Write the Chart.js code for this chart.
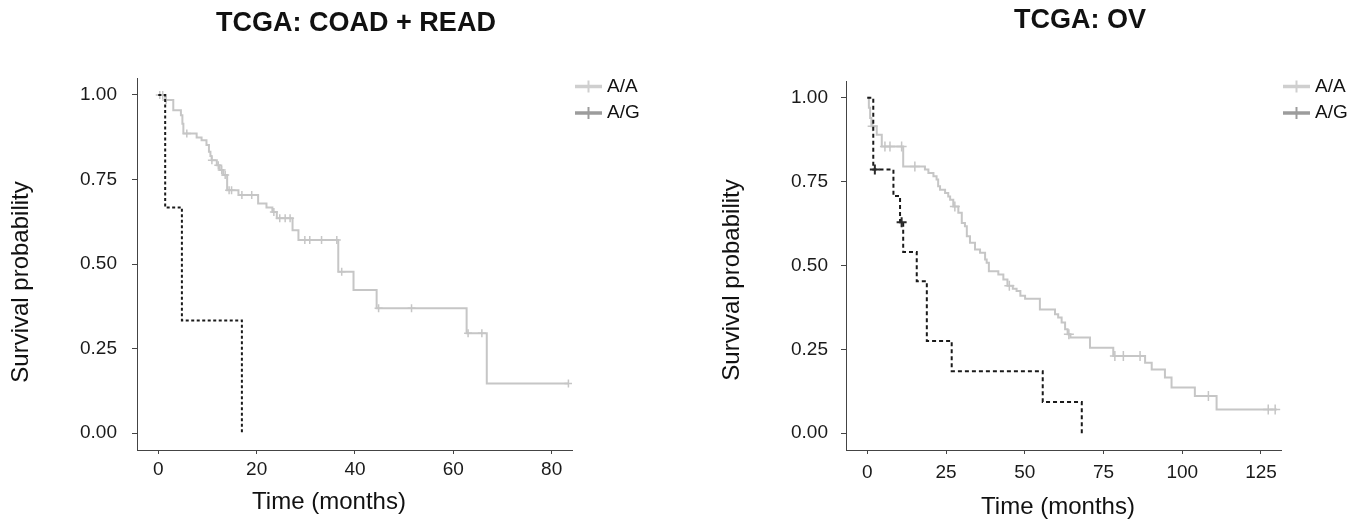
<!DOCTYPE html>
<html>
<head>
<meta charset="utf-8">
<title>TCGA survival by genotype</title>
<script src="https://cdn.jsdelivr.net/npm/chart.js@4"></script>
<style>
  html, body { margin: 0; padding: 0; background: #fff; overflow: hidden; }
  #wrap { position: relative; width: 1370px; height: 523px; }
  canvas { position: absolute; top: 0; }
  #coadChart { left: 0; }
  #ovChart { left: 685px; }
</style>
</head>
<body>
<div id="wrap">
  <canvas id="coadChart" width="685" height="523"></canvas>
  <canvas id="ovChart" width="685" height="523"></canvas>
</div>
<script>
// Kaplan-Meier curves (time in months, survival after each step)
const legendLabels = ["A/A", "A/G"];
const legendColors = ["#cfcfcf", "#9c9c9c"];
const yTicks = [0, 0.25, 0.5, 0.75, 1];

// TCGA: COAD + READ
const coadXTicks = [0, 20, 40, 60, 80];
const coadTimeAA = [0, 1.4, 3.05, 4.6, 4.9, 5.1, 7.8, 8.8, 9.8, 10.3, 10.6, 10.85, 11.9, 12.5, 13.2, 14.0,
  16.3, 20.3, 22.0, 23.2, 24.1, 27.3, 28.5, 36.6, 39.7, 44.4, 62.7, 66.8, 83.4];
const coadSurvAA = [1.0, 0.985, 0.955, 0.94, 0.915, 0.886, 0.874, 0.866, 0.852, 0.832, 0.819, 0.807, 0.792, 0.778, 0.763, 0.718,
  0.704, 0.679, 0.667, 0.654, 0.635, 0.600, 0.571, 0.477, 0.423, 0.369, 0.295, 0.147, 0.147];
const coadCensorAA = [0.3, 0.9, 1.6, 5.8, 10.9, 12.2, 12.9, 13.6, 14.4, 14.9, 17.0, 19.0, 23.5, 24.7, 25.8, 26.8,
  29.8, 30.8, 33.2, 36.3, 37.3, 44.8, 51.5, 63.0, 65.8, 83.4];
const coadTimeAG = [0, 1.4, 4.8, 17.0];
const coadSurvAG = [1.0, 0.667, 0.333, 0.0];
const coadCensorAG = [];

// TCGA: OV
const ovXTicks = [0, 25, 50, 75, 100, 125];
const ovTimeAA = [0, 0.5, 0.9, 1.3, 3.0, 4.6, 11.4, 18.3, 19.4, 21.0, 22.0, 22.5, 23.1, 24.7, 25.7, 26.3, 27.3,
  28.9, 30.0, 31.0, 31.6, 32.6, 34.2, 35.8, 37.4, 37.9, 38.6, 41.6, 43.2, 44.5, 46.2, 47.4, 48.6, 50.1, 54.8,
  59.6, 60.6, 61.7, 62.8, 63.6, 64.5, 70.7, 78.1, 88.2, 90.3, 94.5, 96.6, 104.0, 110.9, 130.0];
const ovSurvAA = [1.0, 0.97, 0.94, 0.915, 0.89, 0.855, 0.795, 0.786, 0.776, 0.766, 0.756, 0.736, 0.726, 0.716, 0.706, 0.696, 0.676,
  0.657, 0.627, 0.617, 0.587, 0.568, 0.548, 0.538, 0.518, 0.508, 0.483, 0.473, 0.458, 0.44, 0.431, 0.424, 0.41, 0.401, 0.369,
  0.355, 0.345, 0.33, 0.31, 0.295, 0.285, 0.255, 0.23, 0.21, 0.19, 0.166, 0.136, 0.111, 0.071, 0.071];
const ovCensorAA = [1.7, 5.6, 7.2, 10.9, 15.1, 27.8, 45.1, 64.0, 78.6, 81.3, 86.6, 108.3, 127.3, 129.5];
const ovTimeAG = [0, 1.9, 8.3, 10.4, 11.4, 15.7, 18.9, 26.8, 55.7, 68.1];
const ovSurvAG = [1.0, 0.786, 0.707, 0.629, 0.54, 0.453, 0.275, 0.185, 0.093, 0.0];
const ovCensorAG = [2.4, 10.9];

const FONT = "'Liberation Sans', Arial, sans-serif";
Chart.defaults.font.family = FONT;
Chart.defaults.color = "#1a1a1a";

function steps(times, surv) {
  return times.map((t, i) => ({ x: t, y: surv[i] }));
}

// survival value of the curve at time t (for placing censor marks)
function survAt(times, surv, t) {
  let s = surv[0];
  for (let i = 0; i < times.length; i++) {
    if (times[i] <= t) s = surv[i];
  }
  return s;
}

function censorPoints(censor, times, surv) {
  return censor.map((t) => ({ x: t, y: survAt(times, surv, t) }));
}

// titles, axis titles and the line+cross legend
const panelText = {
  id: "panelText",
  afterDraw(chart, args, opts) {
    const ctx = chart.ctx;
    ctx.save();
    ctx.fillStyle = "#111";
    ctx.textBaseline = "middle";
    ctx.textAlign = "center";
    ctx.font = "bold 27px " + FONT;
    ctx.fillText(opts.title, opts.titleX, opts.titleY);
    ctx.font = "24px " + FONT;
    ctx.fillText("Time (months)", opts.xTitleX, opts.xTitleY);
    ctx.save();
    ctx.translate(opts.yTitleX, opts.yTitleY);
    ctx.rotate(-Math.PI / 2);
    ctx.fillText("Survival probability", 0, 0);
    ctx.restore();

    legendLabels.forEach((label, i) => {
      const y = opts.legendY + i * 26.5;
      const x = opts.legendX;
      ctx.strokeStyle = legendColors[i];
      ctx.lineWidth = 3.5;
      ctx.beginPath();
      ctx.moveTo(x, y);
      ctx.lineTo(x + 27, y);
      ctx.stroke();
      ctx.lineWidth = 2;
      ctx.beginPath();
      ctx.moveTo(x + 13.5, y - 6);
      ctx.lineTo(x + 13.5, y + 6);
      ctx.stroke();
      ctx.fillStyle = "#111";
      ctx.textAlign = "left";
      ctx.font = "19px " + FONT;
      ctx.fillText(label, x + 32, y);
    });
    ctx.restore();
  },
};

function makeChart(id, cfg) {
  return new Chart(document.getElementById(id), {
    type: "line",
    data: {
      datasets: [
        {
          label: "A/G",
          data: steps(cfg.timeAG, cfg.survAG),
          stepped: true,
          borderColor: "#1a1a1a",
          borderWidth: 2,
          borderDash: cfg.dash,
          pointRadius: 0,
          fill: false,
          order: 1,
        },
        {
          label: "A/G censored",
          data: censorPoints(cfg.censorAG, cfg.timeAG, cfg.survAG),
          showLine: false,
          pointStyle: "cross",
          pointRadius: cfg.crossSize,
          pointBorderWidth: 2,
          pointBorderColor: "#2a2a2a",
          order: 0,
        },
        {
          label: "A/A",
          data: steps(cfg.timeAA, cfg.survAA),
          stepped: true,
          borderColor: "#c6c6c6",
          borderWidth: 2,
          pointRadius: 0,
          fill: false,
          order: 3,
        },
        {
          label: "A/A censored",
          data: censorPoints(cfg.censorAA, cfg.timeAA, cfg.survAA),
          showLine: false,
          pointStyle: "cross",
          pointRadius: cfg.crossSize,
          pointBorderWidth: 1.5,
          pointBorderColor: "#c6c6c6",
          order: 2,
        },
      ],
    },
    options: {
      responsive: false,
      animation: false,
      layout: { padding: { left: 0, right: cfg.padRight, top: cfg.padTop, bottom: 0 } },
      plugins: {
        legend: { display: false },
        tooltip: { enabled: false },
        panelText: cfg.text,
      },
      scales: {
        x: {
          type: "linear",
          min: cfg.xMin,
          max: cfg.xMax,
          afterFit: (s) => { s.height = 523 - cfg.bottom; },
          afterBuildTicks: (s) => { s.ticks = cfg.xTicks.map((v) => ({ value: v })); },
          grid: { drawOnChartArea: false, tickLength: 4, color: "#444" },
          border: { color: "#444", width: 1 },
          ticks: { padding: cfg.xPad, maxRotation: 0, font: { size: 19 }, color: "#1a1a1a" },
        },
        y: {
          min: -0.05,
          max: 1.05,
          afterFit: (s) => { s.width = cfg.left; },
          afterBuildTicks: (s) => { s.ticks = yTicks.map((v) => ({ value: v })); },
          grid: { drawOnChartArea: false, tickLength: 5, color: "#444" },
          border: { color: "#444", width: 1 },
          ticks: {
            padding: cfg.yPad,
            font: { size: 19 },
            color: "#1a1a1a",
            callback: (v) => v.toFixed(2),
          },
        },
      },
    },
    plugins: [panelText],
  });
}

makeChart("coadChart", {
  timeAA: coadTimeAA, survAA: coadSurvAA, censorAA: coadCensorAA,
  timeAG: coadTimeAG, survAG: coadSurvAG, censorAG: coadCensorAG,
  xTicks: coadXTicks, xMin: -4.33, xMax: 84.13,
  dash: [3, 2.5], crossSize: 4,
  left: 137, padRight: 113, padTop: 78, bottom: 450,
  xPad: 4, yPad: 15,
  text: {
    title: "TCGA: COAD + READ", titleX: 356, titleY: 24,
    xTitleX: 329, xTitleY: 502, yTitleX: 21, yTitleY: 282,
    legendX: 575, legendY: 86.5,
  },
});

makeChart("ovChart", {
  timeAA: ovTimeAA, survAA: ovSurvAA, censorAA: ovCensorAA,
  timeAG: ovTimeAG, survAG: ovSurvAG, censorAG: ovCensorAG,
  xTicks: ovXTicks, xMin: -6.76, xMax: 131.35,
  dash: [4, 3], crossSize: 5,
  left: 161, padRight: 89, padTop: 81, bottom: 450,
  xPad: 7, yPad: 13,
  text: {
    title: "TCGA: OV", titleX: 395, titleY: 21,
    xTitleX: 373, xTitleY: 507, yTitleX: 47, yTitleY: 280,
    legendX: 598, legendY: 86.5,
  },
});
</script>
</body>
</html>
